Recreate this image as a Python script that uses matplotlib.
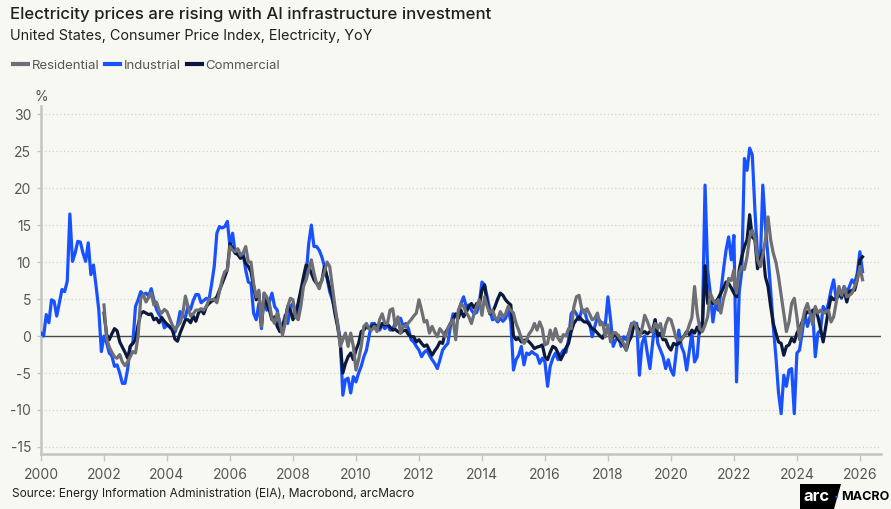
import numpy as np
import matplotlib
matplotlib.use("Agg")
import matplotlib.pyplot as plt
from matplotlib.patches import Polygon, Circle
from matplotlib.lines import Line2D

plt.rcParams['font.family'] = ['Inter', 'DejaVu Sans']

# ---------------- data (YoY %, monthly) ----------------
industrial_start = 2000
industrial = [
    0.4, 0.0, 2.9, 1.8, 4.9, 4.7, 2.7, 4.5, 6.3, 6.0, 7.4, 16.5,          # 2000
    10.1, 11.2, 12.8, 12.7, 11.2, 10.1, 12.6, 8.3, 9.6, 6.7, 3.6, -2.1,   # 2001
    0.0, -0.9, -2.3, -2.7, -4.1, -3.9, -5.0, -6.4, -6.4, -4.5, -1.4, -0.9,  # 2002
    4.0, 4.9, 6.0, 5.6, 5.8, 5.4, 6.4, 4.9, 3.6, 2.9, 2.4, 1.1,          # 2003
    1.5, 1.2, 0.8, 0.5, 1.5, 3.3, 2.7, 2.5, 4.0, 3.6, 4.8, 5.6,          # 2004
    5.6, 4.5, 4.8, 5.1, 4.9, 7.0, 9.4, 13.9, 14.8, 14.6, 14.8, 15.5,     # 2005
    12.1, 13.9, 11.2, 11.6, 10.9, 11.2, 8.9, 7.3, 7.1, 3.1, 2.2, 4.4,    # 2006
    1.0, 5.8, 3.5, 4.6, 5.8, 4.0, 3.5, 1.5, 1.3, 2.8, 1.7, 4.0,          # 2007
    4.4, 2.6, 3.5, 4.6, 7.6, 8.2, 12.5, 15.0, 12.1, 12.1, 11.6, 10.7,    # 2008
    9.4, 7.8, 6.0, 4.9, 3.5, 1.7, -0.5, -8.0, -5.9, -5.7, -7.7, -5.5,    # 2009
    -6.2, -5.0, -4.1, -2.8, -1.9, 0.0, 1.7, 1.7, 1.2, 0.8, 1.5, 1.0,     # 2010
    1.5, 0.8, 0.9, 1.8, 2.2, 2.4, 1.3, 1.7, 1.0, -0.5, -0.8, -1.4,       # 2011
    -1.9, -2.8, -2.2, -1.9, -2.6, -3.2, -3.7, -4.4, -3.2, -1.9, -1.4, -1.0,  # 2012
    1.3, 3.0, 2.8, 3.0, 4.4, 5.3, 4.0, 4.2, 3.5, 3.0, 3.2, 4.4,          # 2013
    7.3, 6.9, 5.3, 3.5, 2.2, 2.4, 1.9, 2.4, 2.0, 2.4, 3.5, 2.0,          # 2014
    -4.6, -3.2, -2.6, -1.4, -3.9, -2.3, -2.5, -2.1, -2.4, -2.6, -3.7, -3.0,  # 2015
    -3.5, -6.8, -4.1, -3.0, -2.3, -3.2, -2.5, -1.9, -2.2, -0.5, 3.0, 3.5,    # 2016
    3.0, 2.2, 3.5, 3.5, 2.2, 1.7, -0.1, 1.3, 2.6, 2.0, 1.7, 1.5,         # 2017
    5.3, 2.2, -1.4, -0.5, 0.1, -1.4, -0.1, -0.5, 0.4, 1.7, 1.7, 1.7,     # 2018
    -5.3, -1.0, 0.0, -2.3, -4.4, -1.0, 2.2, -1.0, -1.9, -2.8, -4.4, -3.2,  # 2019
    -4.6, -5.3, -2.3, 0.8, -1.4, -2.3, -4.6, -2.0, 0.4, -3.5, -2.8, 1.7,   # 2020
    1.7, 20.4, 8.9, 5.8, 1.9, 4.4, 3.5, 5.8, 8.9, 11.6, 13.4, 10.3,      # 2021
    13.6, -6.2, 5.8, 8.9, 24.0, 22.4, 25.4, 24.5, 17.0, 11.0, 9.4, 20.4,  # 2022
    14.8, 10.7, 6.2, 1.3, -2.8, -7.7, -10.5, -5.3, -6.8, -4.6, -4.4, -10.5,  # 2023
    -2.3, -1.9, 0.4, 3.1, 1.3, 2.6, 3.5, -2.8, 0.4, 0.8, 4.0, 3.1,       # 2024
    4.4, 6.2, 7.6, 4.9, 6.2, 5.1, 6.7, 5.8, 6.7, 7.6, 7.1, 8.5,          # 2025
    11.4, 8.7,                                                           # 2026
]

residential_start = 2002
residential = [
    4.2, -0.3, -1.5, -2.2, -2.8, -3.0, -2.5, -3.5, -4.0, -3.5, -2.8, -2.1,  # 2002
    -2.3, 0.0, 5.1, 5.6, 4.6, 5.2, 5.8, 4.2, 4.6, 3.5, 3.1, 3.6,         # 2003
    3.3, 2.4, 1.5, 0.9, 1.3, 1.8, 3.0, 5.4, 4.0, 2.7, 3.0, 3.5,          # 2004
    3.5, 3.7, 3.5, 4.0, 5.0, 4.9, 5.0, 4.5, 6.0, 7.6, 8.7, 8.9,          # 2005
    12.1, 11.6, 11.4, 11.8, 10.9, 11.2, 12.1, 10.0, 10.0, 7.1, 5.3, 6.2,  # 2006
    1.3, 5.8, 5.3, 4.4, 2.4, 1.7, 3.1, 1.9, 0.1, 1.7, 4.0, 5.1,          # 2007
    4.9, 2.6, 2.2, 4.0, 6.7, 7.6, 8.9, 10.3, 8.5, 7.1, 6.4, 7.6,         # 2008
    8.7, 10.0, 9.4, 6.7, 4.0, 1.7, -1.4, -0.5, 0.4, -1.4, 0.4, -1.4,     # 2009
    -4.6, -3.2, -1.4, 1.3, 1.7, 1.0, 0.8, 1.3, 0.6, 2.2, 3.0, 1.7,       # 2010
    1.7, 3.5, 3.7, 1.3, 2.6, 0.4, 1.3, 1.3, 1.8, 2.2, 2.7, 3.1,          # 2011
    4.9, 3.5, 1.9, 2.1, 0.4, 1.3, 0.5, -0.1, 1.0, 0.5, -0.1, 1.0,        # 2012
    1.7, 2.2, -0.5, 3.5, 4.4, 4.0, 3.2, 2.6, 1.7, 3.0, 4.0, 4.9,         # 2013
    2.8, 5.3, 4.0, 3.1, 3.5, 2.5, 2.2, 3.3, 2.6, 3.0, 4.0, 3.5,          # 2014
    3.1, 1.7, 0.8, -0.3, -1.0, -0.5, 0.3, 0.8, 1.7, 0.8, 1.9, 1.0,       # 2015
    -1.2, -1.0, 0.8, -0.5, 1.0, -0.3, -0.8, 0.2, 0.0, 1.0, 1.0, 3.9,     # 2016
    5.3, 5.5, 3.7, 3.1, 3.7, 3.0, 2.2, 2.4, 3.1, 1.5, 1.8, -0.1,         # 2017
    1.5, -0.8, 0.5, 0.4, 0.0, -0.5, -1.0, -1.9, 0.4, 1.5, 1.9, 1.0,      # 2018
    -0.1, 1.0, 2.8, 2.0, 1.0, 0.5, 1.7, 1.0, 1.7, -0.1, 1.5, 2.4,        # 2019
    2.2, 1.0, -0.3, -0.5, -0.5, 0.0, 0.4, 1.5, 2.5, 6.7, 3.1, 1.0,       # 2020
    0.6, 1.5, 2.6, 5.8, 4.9, 4.4, 4.9, 3.1, 5.0, 6.2, 7.8, 7.5,          # 2021
    8.9, 5.8, 8.5, 9.4, 9.0, 10.7, 13.4, 14.3, 13.2, 10.3, 9.4, 11.0,    # 2022
    13.0, 16.1, 13.0, 11.2, 10.0, 8.0, 5.5, 3.0, 0.6, 1.9, 4.4, 5.1,     # 2023
    2.6, -0.5, 1.7, 3.5, 4.4, 3.1, 1.5, 4.0, 3.1, 3.5, 3.1, 3.3,         # 2024
    3.5, 1.9, 2.6, 4.6, 6.7, 5.5, 6.7, 5.3, 5.5, 5.8, 6.7, 7.6,          # 2025
    9.4, 7.6,                                                            # 2026
]

commercial_start = 2002
commercial = [
    3.1, 0.2, -0.5, 0.3, 1.0, 0.7, -0.8, -1.5, -2.2, -3.0, -1.4, -1.0,   # 2002
    -0.5, 1.5, 3.0, 3.3, 3.1, 2.9, 3.0, 2.2, 2.4, 1.8, 2.5, 2.0,         # 2003
    1.6, 1.3, 0.9, -0.4, -0.7, 0.4, 1.3, 2.2, 2.2, 1.8, 2.7, 2.0,        # 2004
    3.1, 3.6, 3.0, 4.0, 4.4, 4.7, 4.9, 5.3, 6.2, 7.1, 8.0, 9.0,          # 2005
    12.5, 11.8, 11.2, 11.0, 10.5, 10.8, 9.8, 9.4, 8.7, 6.7, 4.9, 5.8,    # 2006
    1.7, 5.3, 4.4, 3.5, 2.2, 2.6, 1.3, 0.6, 1.5, 2.2, 4.0, 3.5,          # 2007
    2.2, 3.1, 4.5, 6.2, 8.0, 9.6, 9.4, 8.5, 7.6, 7.1, 6.9, 7.5,          # 2008
    9.4, 8.0, 6.5, 5.3, 3.0, 1.3, -1.0, -5.0, -3.7, -2.8, -2.3, -3.2,    # 2009
    -1.9, -1.0, 0.6, 0.8, 1.3, 1.0, 1.3, 1.5, 1.3, 1.1, 1.7, 1.5,        # 2010
    1.6, 1.2, 0.8, 0.9, 0.6, 0.4, 0.7, 0.8, 0.2, -0.1, -0.1, -0.8,       # 2011
    -0.5, -1.0, -1.4, -1.2, -1.9, -2.6, -2.0, -1.5, -0.8, -1.0, 0.4, 1.0,  # 2012
    1.7, 2.2, 3.0, 2.4, 3.5, 2.6, 3.2, 4.0, 4.4, 3.8, 4.4, 4.2,          # 2013
    6.2, 6.9, 4.4, 3.0, 3.2, 4.0, 5.0, 5.8, 5.5, 4.9, 4.5, 4.2,          # 2014
    0.0, -0.5, -0.3, -0.8, -0.6, -0.5, -0.8, -1.2, -1.7, -1.5, -1.4, -1.2,  # 2015
    -2.8, -3.2, -2.2, -1.4, -1.6, -2.3, -3.2, -2.5, -1.6, -1.0, 0.6, 1.7,  # 2016
    2.2, 2.6, 2.2, 1.9, 1.9, 1.5, 1.0, 0.8, 0.4, 0.0, -0.3, 0.6,         # 2017
    0.5, 0.3, -0.1, 0.4, -0.5, -0.8, -1.2, -1.9, -0.7, 0.0, 1.7, 1.2,    # 2018
    0.8, 0.4, 0.6, 0.3, 0.6, 0.8, 2.2, 0.0, 0.4, -0.5, -0.5, -1.4,       # 2019
    -1.9, -1.0, -1.2, -1.0, -0.4, 0.0, 0.6, 0.2, 0.8, 0.4, 1.2, 0.4,     # 2020
    1.3, 9.5, 4.4, 5.3, 4.4, 4.6, 5.1, 5.8, 6.5, 7.3, 7.1, 6.5,          # 2021
    5.8, 5.3, 8.9, 10.7, 12.1, 13.0, 16.4, 13.4, 13.0, 9.1, 10.3, 11.6,  # 2022
    8.0, 6.7, 4.0, 1.7, 0.4, -0.8, -1.0, -2.6, -1.4, -1.2, -0.3, -0.8,   # 2023
    0.4, 1.0, 1.9, 2.8, 3.3, 3.1, 3.4, 3.7, 2.6, 1.0, -0.8, 1.3,         # 2024
    3.5, 5.3, 4.9, 5.1, 5.5, 5.3, 6.2, 4.6, 6.0, 6.2, 6.2, 7.6,          # 2025
    10.3, 10.7,                                                          # 2026
]

series_names = ["Residential", "Industrial", "Commercial"]
year_ticks = list(range(2000, 2027, 2))
y_ticks = [-15, -10, -5, 0, 5, 10, 15, 20, 25, 30]

# ---------------- style ----------------
BG = "#F8F8F3"
C_RES = "#6E6F74"
C_IND = "#1852FF"
C_COM = "#0B1A3C"
TXT = "#231F20"
TICK = "#555555"

W, H = 891, 509
fig = plt.figure(figsize=(W / 100, H / 100), dpi=100, facecolor=BG)

def fx(px):
    return px / W

def fy(py):
    return 1 - py / H

ax = fig.add_axes([fx(41), fy(454), fx(881) - fx(41), fy(106) - fy(454)])
ax.set_facecolor(BG)

def xs(start, vals):
    return start + np.arange(len(vals)) / 12.0

lw = 2.3
ax.plot(xs(industrial_start, industrial), industrial, color=C_IND, lw=lw, zorder=3,
        solid_joinstyle='round')
ax.plot(xs(commercial_start, commercial), commercial, color=C_COM, lw=lw, zorder=4,
        solid_joinstyle='round')
ax.plot(xs(residential_start, residential), residential, color=C_RES, lw=lw, zorder=5,
        solid_joinstyle='round')

ax.set_xlim(2000, 2026.67)
ax.set_ylim(-15.95, 31.1)
ax.set_xticks(year_ticks)
ax.set_xticklabels([str(y) for y in year_ticks])
ax.set_yticks(y_ticks)
ax.set_yticklabels([str(v) for v in y_ticks])

for v in y_ticks:
    if v == 0:
        ax.axhline(0, color="#4A4A4A", lw=1.0, zorder=2)
    else:
        ax.axhline(v, color="#D2D2D2", lw=0.9, ls=(0, (1, 2)), zorder=1)

for s in ["top", "right"]:
    ax.spines[s].set_visible(False)
for s in ["left", "bottom"]:
    ax.spines[s].set_color("#C4C4C4")
    ax.spines[s].set_linewidth(1.8)

ax.tick_params(axis="y", length=3, width=1, color="#C4C4C4", labelsize=10,
               labelcolor=TICK, pad=4)
ax.tick_params(axis="x", length=5, width=1, color="#C4C4C4", labelsize=10,
               labelcolor=TICK, pad=5)

fig.text(fx(35), fy(97), "%", fontsize=10, color=TICK, ha="left", va="center")

# titles
fig.text(fx(10), fy(14), "Electricity prices are rising with AI infrastructure investment",
         fontsize=12.1, fontweight="medium", color=TXT, ha="left", va="center")
fig.text(fx(10), fy(36), "United States, Consumer Price Index, Electricity, YoY",
         fontsize=10.4, color=TXT, ha="left", va="center")

# legend
handles = [Line2D([], [], color=c, lw=3) for c in (C_RES, C_IND, C_COM)]
fig.legend(handles, series_names, loc="center left", bbox_to_anchor=(fx(13), fy(66)),
           ncol=3, frameon=False, fontsize=9.5, handlelength=1.15, handletextpad=0.25,
           columnspacing=0.45, labelcolor="#555555", borderaxespad=0, borderpad=0)

# source
fig.text(fx(12), fy(494), "Source: Energy Information Administration (EIA), Macrobond, arcMacro",
         fontsize=8.6, color=TXT, ha="left", va="center")

# logo
logo = Polygon([[fx(800), fy(484)], [fx(841), fy(484)], [fx(834), fy(509)], [fx(800), fy(509)]],
               closed=True, transform=fig.transFigure, facecolor="#000000", edgecolor="none")
fig.patches.append(logo)
fig.text(fx(804), fy(496.5), "arc", fontsize=12, fontweight="bold", color="white",
         ha="left", va="center")
fig.patches.append(Circle((fx(836.5), fy(497)), 1.6 / W, transform=fig.transFigure,
                          facecolor=C_IND, edgecolor="none"))
fig.text(fx(841), fy(497), "MACRO", fontsize=9, fontweight="bold", color="#000000",
         ha="left", va="center")

fig.savefig("out.png", dpi=100, facecolor=BG)
